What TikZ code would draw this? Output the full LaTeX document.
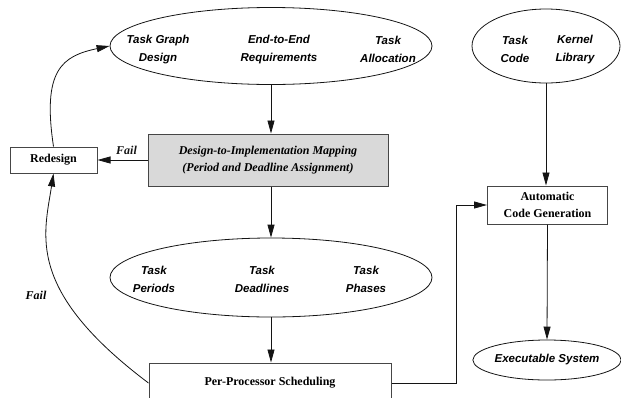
\documentclass[tikz,border=0pt]{standalone}
\usepackage{fontspec}
\setmainfont{Liberation Serif}
\setsansfont{Liberation Sans}
\usetikzlibrary{shapes.geometric, arrows.meta, positioning, calc}
\usepackage{xcolor}
\definecolor{cMap}{RGB}{217, 217, 217}
\definecolor{bLine}{RGB}{20, 20, 20}
\definecolor{bBox}{RGB}{70, 70, 70}

\begin{document}
\begin{tikzpicture}[
    x=1pt, y=-1pt,
    >={Triangle[length=13pt, width=7pt]},
    font=\rmfamily\bfseries\fontsize{12}{17}\selectfont,
    data/.style={
        draw=bLine,
        ellipse,
        line width=0.8pt,
        inner sep=0pt
    },
    entry/.style={font=\sffamily\bfseries\itshape\fontsize{11.5}{18}\selectfont, align=center, inner sep=0pt},
    block/.style={
        draw=bBox,
        line width=1pt,
        align=center,
        inner sep=0pt
    },
    arrow/.style={->, line width=0.8pt, color=bLine},
    fail/.style={font=\rmfamily\bfseries\itshape\fontsize{12}{14}\selectfont}
]

\path[use as bounding box, clip] (0,0) rectangle (621,397);

% Specification inputs
\node[data, minimum width=322, minimum height=77] (spec) at (271,46) {};
\node[entry] (graph) at (158,49.5) {Task Graph\\Design};
\node[entry] (e2e) at (279,49.5) {End-to-End\\Requirements};
\node[entry] (alloc) at (388,49.5) {Task\\Allocation};

\node[data, minimum width=148, minimum height=74] (lib) at (546,46) {};
\node[entry] (code) at (515,49.5) {Task\\Code};
\node[entry] (kernel) at (575,49.5) {Kernel\\Library};

\node[block, fill=cMap, minimum width=240, minimum height=52,
      font=\rmfamily\bfseries\itshape\fontsize{12}{17}\selectfont] (map) at (268,160) {
    Design-to-Implementation Mapping\\
    (Period and Deadline Assignment)
};

\node[block, minimum width=87, minimum height=26] (redesign) at (53.5,160) {Redesign};

% Timing attributes
\node[data, minimum width=322, minimum height=79] (times) at (271,277.5) {};
\node[entry] (period) at (154,279.5) {Task\\Periods};
\node[entry] (deadline) at (262,279.5) {Task\\Deadlines};
\node[entry] (phase) at (366,279.5) {Task\\Phases};

\node[block, minimum width=242, minimum height=40] (sched) at (270,383) {Per-Processor Scheduling};

\node[block, minimum width=120, minimum height=38] (codegen) at (547.5,205) {
    Automatic\\
    Code Generation
};

\node[data, minimum width=141, minimum height=40,
      font=\sffamily\bfseries\itshape\fontsize{11.5}{14}\selectfont] (exec) at (547,360) {Executable System};

\node[fail] (fail2) at (36,295) {Fail};
\coordinate (turn) at (456,205);

\draw[arrow] (spec.south) -- (spec.south |- map.north);
\draw[arrow] (map.west) -- node[fail, above, pos=0.42, yshift=2pt] {Fail} (redesign.east);
\draw[arrow] (redesign.north) .. controls (42,70) and (62,56) .. (spec.west);
\draw[arrow] (times.north |- map.south) -- (times.north);
\draw[arrow] (times.south) -- (times.south |- sched.north);
\draw[arrow] (sched.west) .. controls (25,290) and (44,235) .. (redesign.south);
\draw[arrow] (sched.east) -| (turn) -- (codegen.west);
\draw[arrow] (lib.south) -- (lib.south |- codegen.north);
\draw[arrow] (codegen.south) -- (exec.north);

\end{tikzpicture}
\end{document}
